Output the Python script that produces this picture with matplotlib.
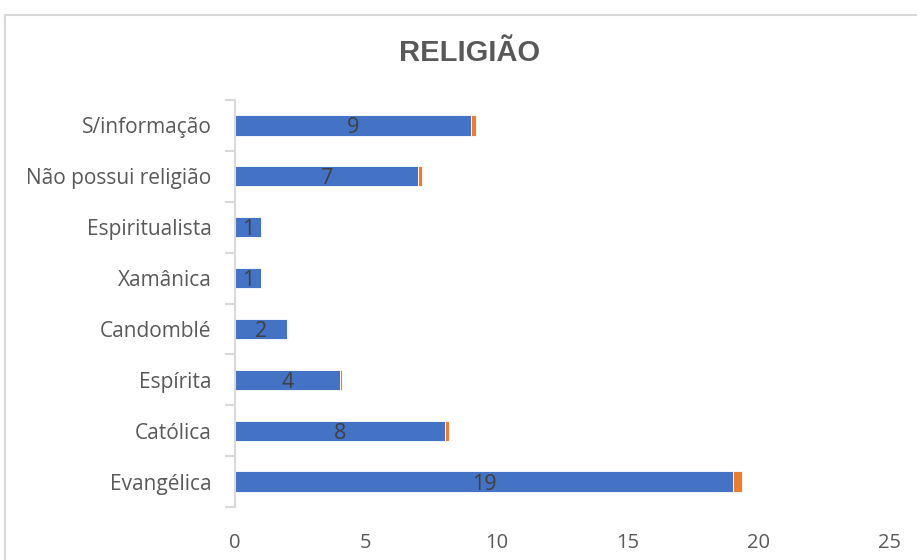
import matplotlib
matplotlib.use("Agg")
import matplotlib.pyplot as plt
from matplotlib.patches import Rectangle

# categories bottom-to-top, as drawn on the y axis
categories = [
    "Evangélica", "Católica", "Espírita", "Candomblé",
    "Xamânica", "Espiritualista", "Não possui religião", "S/informação",
]
counts = [19, 8, 4, 2, 1, 1, 7, 9]
shares = [0.37, 0.16, 0.08, 0.04, 0.02, 0.02, 0.14, 0.18]
x_ticks = [0, 5, 10, 15, 20, 25]

BLUE = "#4472C4"
ORANGE = "#ED7D31"
GREY_TXT = "#595959"
GREY_LINE = "#D9D9D9"

fig = plt.figure(figsize=(9.17, 5.6), dpi=100)
fig.patch.set_facecolor("white")

# chart area frame (runs off the right/bottom edge)
fig.patches.append(Rectangle((5 / 917, -0.1), 1.2, (560 - 15) / 560 + 0.1,
                             transform=fig.transFigure, fill=False,
                             edgecolor=GREY_LINE, linewidth=1.5))

ax = fig.add_axes([235 / 917, 53 / 560, 655 / 917, 407 / 560])
ypos = list(range(len(categories)))

ax.barh(ypos, counts, height=0.4, color=BLUE, edgecolor="white", linewidth=0.6)
ax.barh(ypos, shares, left=counts, height=0.4, color=ORANGE,
        edgecolor="white", linewidth=0.6)

for y, c in zip(ypos, counts):
    ax.text(c / 2, y, str(c), ha="center", va="center_baseline",
            fontsize=15.5, color="#404040", family="Open Sans")

ax.set_xlim(0, 25)
ax.set_ylim(-0.5, len(categories) - 0.5)
ax.set_xticks(x_ticks)
ax.set_xticklabels([str(t) for t in x_ticks], family="Open Sans",
                   fontsize=14.5, color=GREY_TXT)
ax.set_yticks(ypos)
ax.set_yticklabels(categories, family="Open Sans", fontsize=15, color=GREY_TXT)
ax.set_yticks([y - 0.5 for y in ypos] + [len(categories) - 0.5], minor=True)

ax.tick_params(axis="x", length=0, pad=19)
ax.tick_params(axis="y", which="major", length=0, pad=17)
ax.tick_params(axis="y", which="minor", length=7, width=1.5, color=GREY_LINE)

for side in ["top", "right", "bottom"]:
    ax.spines[side].set_visible(False)
ax.spines["left"].set_color(GREY_LINE)
ax.spines["left"].set_linewidth(1.5)

fig.text(470 / 917, 1 - 53 / 560, "RELIGIÃO", ha="center", va="center",
         fontsize=21, fontweight="bold", color=GREY_TXT, family="Liberation Sans")

fig.savefig("out.png", dpi=100)
